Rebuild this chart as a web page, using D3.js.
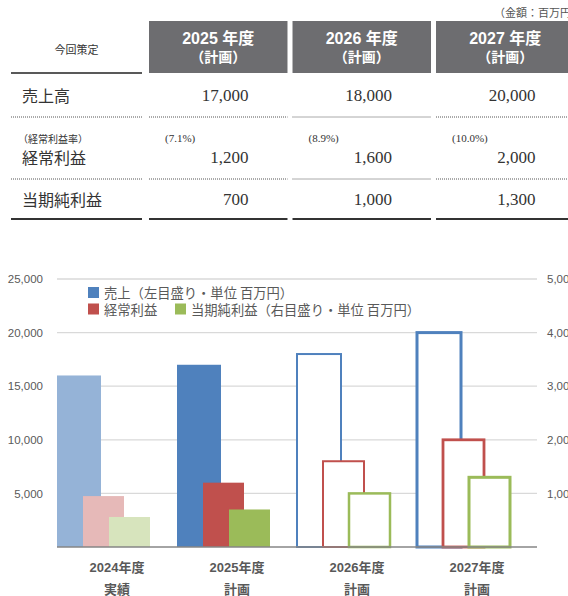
<!DOCTYPE html>
<html>
<head>
<meta charset="utf-8">
<script src="https://cdn.jsdelivr.net/npm/d3@7"></script>
<style>
  html, body { margin: 0; padding: 0; background: #fff; }
  svg { display: block; }
</style>
</head>
<body>
<svg id="root" width="568" height="596"></svg>
<script>
// ---- Plan table data ----
const planYears = ["2025", "2026", "2027"];
const planSales = [17000, 18000, 20000];
const planOrdinary = [1200, 1600, 2000];
const planNet = [700, 1000, 1300];

// ---- Chart data ----
const categories = ["2024年度", "2025年度", "2026年度", "2027年度"];
const categoryNotes = ["実績", "計画", "計画", "計画"];
const salesValues = [16000, 17000, 18000, 20000];     // left axis
const ordinaryValues = [950, 1200, 1600, 2000];       // right axis
const netValues = [560, 700, 1000, 1300];             // right axis
const leftTicks = [5000, 10000, 15000, 20000, 25000];
const rightTicks = [1000, 2000, 3000, 4000, 5000];

const JP = "'Noto Sans CJK JP', 'Noto Sans', sans-serif";
const NUM = "'Liberation Serif', 'DejaVu Serif', serif";
const fmt = d3.format(",");
const pct = d3.format(".1%");

const svg = d3.select("#root");

// ================= Table =================
const table = svg.append("g");

table.append("text")
  .attr("x", 494).attr("y", 12)
  .attr("dominant-baseline", "central")
  .attr("font-family", JP).attr("font-size", 11)
  .attr("fill", "#555")
  .text("（金額：百万円）");

const col = d3.scaleBand().domain(planYears).range([149, 574.5]).paddingInner(0.035);
const labelCol = { x0: 11, x1: 142 };

// header boxes
const head = table.selectAll("g.head").data(planYears).join("g").attr("class", "head");
head.append("rect")
  .attr("x", d => col(d)).attr("y", 21)
  .attr("width", col.bandwidth()).attr("height", 52)
  .attr("fill", "#6d6d70");
head.append("text")
  .attr("x", d => col(d) + col.bandwidth() / 2).attr("y", 38.5)
  .attr("text-anchor", "middle").attr("dominant-baseline", "central")
  .attr("font-family", "'Liberation Sans', " + JP).attr("font-weight", "bold")
  .attr("font-size", 16).attr("fill", "#fff")
  .text(d => d + " 年度");
head.append("text")
  .attr("x", d => col(d) + col.bandwidth() / 2).attr("y", 55.5)
  .attr("text-anchor", "middle").attr("dominant-baseline", "central")
  .attr("font-family", JP).attr("font-weight", "bold")
  .attr("font-size", 14).attr("fill", "#fff")
  .text("（計画）");

table.append("text")
  .attr("x", (labelCol.x0 + labelCol.x1) / 2).attr("y", 49)
  .attr("text-anchor", "middle").attr("dominant-baseline", "central")
  .attr("font-family", JP).attr("font-size", 11).attr("fill", "#333")
  .text("今回策定");
table.append("line")
  .attr("x1", labelCol.x0).attr("x2", labelCol.x1)
  .attr("y1", 73).attr("y2", 73)
  .attr("stroke", "#222").attr("stroke-width", 1.6);

// row separators
function rowRule(y, dotted) {
  const spans = [[labelCol.x0, labelCol.x1]].concat(planYears.map(d => [col(d), col(d) + col.bandwidth()]));
  table.selectAll(null).data(spans).join("line")
    .attr("x1", d => d[0]).attr("x2", d => d[1])
    .attr("y1", y).attr("y2", y)
    .attr("stroke", dotted ? "#555" : "#333")
    .attr("stroke-width", dotted ? 1 : 2)
    .attr("stroke-dasharray", dotted ? "1,1" : null);
}
rowRule(117, true);
rowRule(179, true);
rowRule(219, false);

const rows = [
  { label: "売上高", y: 95, values: planSales },
  { label: "経常利益", y: 157, values: planOrdinary },
  { label: "当期純利益", y: 199, values: planNet }
];
rows.forEach(r => {
  table.append("text")
    .attr("x", 22).attr("y", r.y)
    .attr("dominant-baseline", "central")
    .attr("font-family", JP).attr("font-size", 16).attr("fill", "#333")
    .text(r.label);
  table.selectAll(null).data(r.values).join("text")
    .attr("x", (d, i) => col(planYears[i]) + col.bandwidth() - 39)
    .attr("y", r.y)
    .attr("text-anchor", "end").attr("dominant-baseline", "central")
    .attr("font-family", NUM).attr("font-size", 17).attr("fill", "#333")
    .text(d => fmt(d));
});

// ordinary profit margin
table.append("text")
  .attr("x", 18).attr("y", 138)
  .attr("dominant-baseline", "central")
  .attr("font-family", JP).attr("font-size", 10).attr("fill", "#333")
  .text("（経常利益率）");
table.selectAll(null).data(planOrdinary).join("text")
  .attr("x", (d, i) => col(planYears[i]) + 16)
  .attr("y", 138)
  .attr("dominant-baseline", "central")
  .attr("font-family", NUM).attr("font-size", 11).attr("fill", "#333")
  .text((d, i) => "(" + pct(d / planSales[i]) + ")");

// ================= Chart =================
const plot = { left: 57, right: 537, top: 279, bottom: 547 };
const x = d3.scaleBand().domain(categories).range([plot.left, plot.right]).padding(0);
const yL = d3.scaleLinear().domain([0, 25000]).range([plot.bottom, plot.top]);
const yR = d3.scaleLinear().domain([0, 5000]).range([plot.bottom, plot.top]);

const chart = svg.append("g");

// gridlines
chart.append("g").selectAll("line").data(leftTicks).join("line")
  .attr("x1", plot.left).attr("x2", plot.right)
  .attr("y1", d => yL(d)).attr("y2", d => yL(d))
  .attr("stroke", "#d9d9d9").attr("stroke-width", 1.3);

// left axis
const leftAxis = chart.append("g")
  .attr("transform", `translate(${plot.left},0)`)
  .call(d3.axisLeft(yL).tickValues(leftTicks).tickFormat(fmt).tickSize(0).tickPadding(14));
leftAxis.select(".domain").remove();
leftAxis.selectAll("text")
  .attr("font-family", "'Liberation Sans', sans-serif").attr("font-size", 11.5).attr("fill", "#595959");

// right axis
const rightAxis = chart.append("g")
  .attr("transform", `translate(${plot.right},0)`)
  .call(d3.axisRight(yR).tickValues(rightTicks).tickFormat(fmt).tickSize(0).tickPadding(10));
rightAxis.select(".domain").remove();
rightAxis.selectAll("text")
  .attr("font-family", "'Liberation Sans', sans-serif").attr("font-size", 11.5).attr("fill", "#595959");

// bar styles per category: actual (pale), plan (solid), plan (outline)
const palettes = [
  { kind: "fill", colors: ["#95b3d7", "#e6b9b8", "#d7e4bd"] },
  { kind: "fill", colors: ["#4f81bd", "#c0504d", "#9bbb59"] },
  { kind: "line", colors: ["#4f81bd", "#c0504d", "#9bbb59"], widths: [2, 2, 2.5] },
  { kind: "line", colors: ["#4f81bd", "#c0504d", "#9bbb59"], widths: [3, 2.8, 3] }
];

const bw = x.bandwidth();
// series layout inside a category band: offset and width as band fractions
const seriesLayout = [
  { key: "sales", off: 0, w: 44 / 120, scale: yL, values: salesValues },
  { key: "ordinary", off: 26 / 120, w: 41 / 120, scale: yR, values: ordinaryValues },
  { key: "net", off: 52 / 120, w: 41 / 120, scale: yR, values: netValues }
];

const groups = chart.append("g").selectAll("g").data(categories).join("g");
groups.each(function (cat, ci) {
  const g = d3.select(this);
  const pal = palettes[ci];
  seriesLayout.forEach((s, si) => {
    const v = s.values[ci];
    const r = g.append("rect")
      .attr("x", x(cat) + s.off * bw)
      .attr("y", s.scale(v))
      .attr("width", s.w * bw)
      .attr("height", plot.bottom - s.scale(v));
    if (pal.kind === "fill") {
      r.attr("fill", pal.colors[si]);
    } else {
      r.attr("fill", "#fff")
        .attr("stroke", pal.colors[si])
        .attr("stroke-width", pal.widths[si]);
    }
  });
});

// baseline
chart.append("line")
  .attr("x1", plot.left).attr("x2", plot.right)
  .attr("y1", plot.bottom).attr("y2", plot.bottom)
  .attr("stroke", "#868686").attr("stroke-width", 1.5);

// category labels
const catLabels = chart.append("g").selectAll("g").data(categories).join("g");
catLabels.append("text")
  .attr("x", d => x(d) + bw / 2).attr("y", 567)
  .attr("text-anchor", "middle").attr("dominant-baseline", "central")
  .attr("font-family", "'Liberation Sans', " + JP).attr("font-weight", "bold")
  .attr("font-size", 13).attr("fill", "#595959")
  .text(d => d);
catLabels.append("text")
  .attr("x", d => x(d) + bw / 2).attr("y", 588)
  .attr("text-anchor", "middle").attr("dominant-baseline", "central")
  .attr("font-family", JP).attr("font-weight", "bold")
  .attr("font-size", 13).attr("fill", "#595959")
  .text((d, i) => categoryNotes[i]);

// legend
const legendItems = [
  { label: "売上（左目盛り・単位 百万円）", color: "#4f81bd", x: 88, y: 292.5 },
  { label: "経常利益", color: "#c0504d", x: 88, y: 309 },
  { label: "当期純利益（右目盛り・単位 百万円）", color: "#9bbb59", x: 175, y: 309 }
];
const legend = chart.append("g").selectAll("g").data(legendItems).join("g");
legend.append("rect")
  .attr("x", d => d.x).attr("y", d => d.y - 5.5)
  .attr("width", 11).attr("height", 11)
  .attr("fill", d => d.color);
legend.append("text")
  .attr("x", d => d.x + 16).attr("y", d => d.y)
  .attr("dominant-baseline", "central")
  .attr("font-family", JP).attr("font-size", 13.3).attr("fill", "#595959")
  .text(d => d.label);
</script>
</body>
</html>
